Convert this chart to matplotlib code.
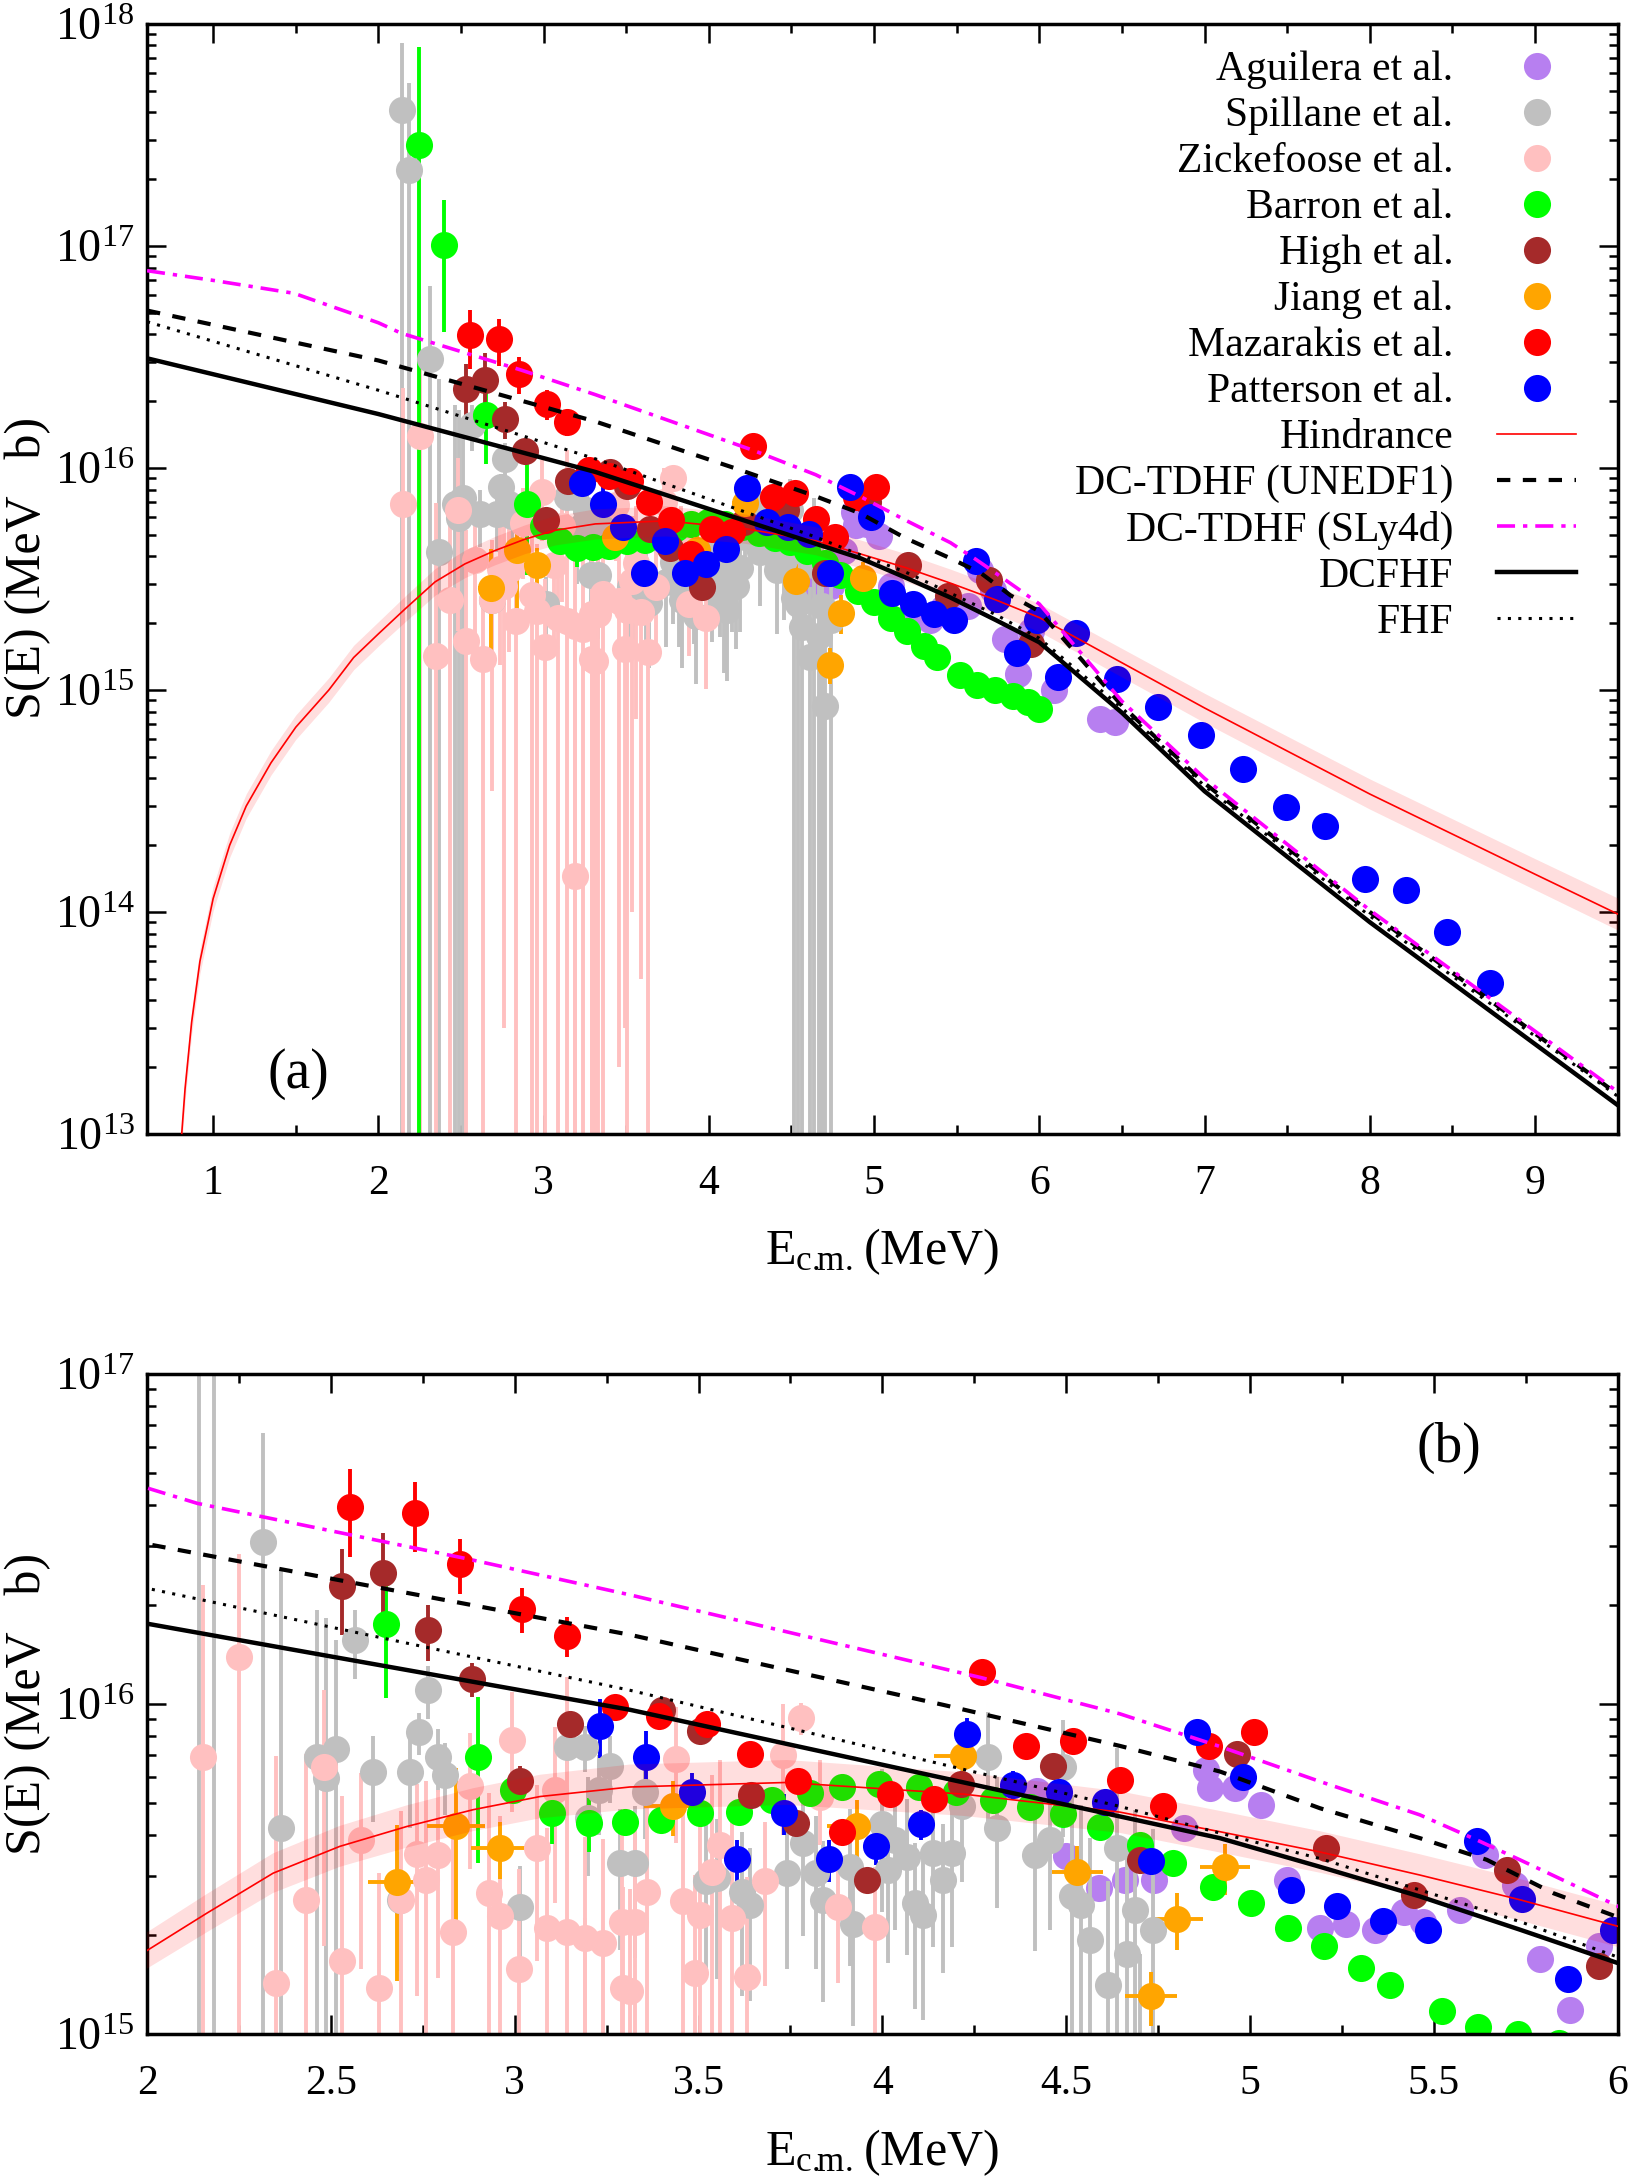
import numpy as np
import matplotlib
matplotlib.use("agg")
import matplotlib.pyplot as plt
from matplotlib.lines import Line2D
from matplotlib.ticker import MultipleLocator, LogLocator, FuncFormatter, NullFormatter

plt.rcParams['font.family'] = ['Liberation Serif', 'DejaVu Serif']
plt.rcParams['mathtext.fontset'] = 'custom'
plt.rcParams['mathtext.rm'] = 'Liberation Serif'
plt.rcParams['mathtext.it'] = 'Liberation Serif:italic'
plt.rcParams['mathtext.bf'] = 'Liberation Serif:bold'

# ---------------- experimental data (E in MeV, S in MeV b) ----------------
aguilera_x = [4.42, 4.50, 4.59, 4.66, 4.74, 4.82, 4.88, 4.89, 4.96, 5.03, 5.10, 5.19, 5.26,
              5.34, 5.42, 5.47, 5.57, 5.64, 5.72, 5.79, 5.87, 5.95, 6.09, 6.37, 6.46]
aguilera_y = [5.46e15, 3.46e15, 2.77e15, 2.93e15, 2.93e15, 4.22e15, 6.31e15, 5.55e15, 5.58e15,
              4.94e15, 2.93e15, 2.09e15, 2.16e15, 2.07e15, 2.34e15, 2.19e15, 2.38e15, 3.48e15,
              2.82e15, 1.69e15, 1.18e15, 1.85e15, 1.0e15, 7.4e14, 7.2e14]

spillane_x = [2.140, 2.183, 2.315, 2.364, 2.461, 2.488, 2.515, 2.565, 2.615, 2.688, 2.715, 2.740,
              2.765, 2.790, 2.810, 3.014, 3.141, 3.191, 3.200, 3.230, 3.259, 3.286, 3.327, 3.354,
              3.520, 3.549, 3.617, 3.640, 3.740, 3.785, 3.820, 3.839, 3.912, 3.921, 3.998, 4.016,
              4.034, 4.066, 4.089, 4.111, 4.139, 4.166, 4.190, 4.216, 4.288, 4.311, 4.415, 4.456,
              4.492, 4.515, 4.540, 4.565, 4.615, 4.638, 4.665, 4.687, 4.700, 4.737]
spillane_y = [4.1e17, 2.2e17, 3.1e16, 4.2e15, 6.9e15, 5.96e15, 7.3e15, 1.56e16, 6.2e15, 2.55e15,
              6.2e15, 8.2e15, 1.1e16, 6.9e15, 6.1e15, 2.43e15, 7.4e15, 7.4e15, 4.5e15, 5.5e15,
              6.5e15, 3.3e15, 3.3e15, 5.4e15, 2.9e15, 2.97e15, 2.7e15, 2.46e15, 3.07e15, 3.78e15,
              3.07e15, 2.55e15, 3.21e15, 2.16e15, 4.34e15, 3.14e15, 3.87e15, 3.44e15, 2.49e15,
              2.30e15, 3.53e15, 2.93e15, 3.53e15, 4.89e15, 6.92e15, 4.2e15, 3.48e15, 3.87e15,
              6.46e15, 2.61e15, 2.45e15, 1.93e15, 1.41e15, 3.66e15, 1.75e15, 2.38e15, 8.5e14,
              2.07e15]
spillane_err = [4.1e17, 3.2e17, 3.5e16, 2.1e16, 1.24e16, 1.22e16, 8.3e15, 3.7e15, 1.8e15, 1.0e15,
                2.0e15, 1.2e15, 2.0e15, 1.5e15, 1.5e15, 0.8e15, 1.2e15, 1.2e15, 1.5e15, 1.5e15,
                1.5e15, 1.5e15, 1.6e15, 1.5e15, 1.4e15, 1.5e15, 1.4e15, 1.2e15, 1.5e15, 1.8e15,
                1.5e15, 1.3e15, 1.6e15, 1.1e15, 2.0e15, 1.5e15, 1.8e15, 1.7e15, 1.3e15, 1.2e15,
                1.7e15, 1.4e15, 1.7e15, 2.0e15, 2.5e15, 1.8e15, 1.7e15, 1.8e15, 2.5e15, 2.7e15,
                2.5e15, 2.0e15, 1.5e15, 3.7e15, 1.8e15, 2.4e15, 9e14, 2.1e15]

zickefoose_x = [2.151, 2.251, 2.350, 2.431, 2.482, 2.531, 2.582, 2.631, 2.690, 2.733, 2.760, 2.790,
                2.833, 2.878, 2.931, 2.960, 2.992, 3.011, 3.060, 3.088, 3.109, 3.141, 3.190, 3.191,
                3.241, 3.291, 3.295, 3.313, 3.327, 3.360, 3.440, 3.458, 3.490, 3.504, 3.536, 3.558,
                3.590, 3.631, 3.681, 3.731, 3.780, 3.830, 3.880, 3.980]
zickefoose_y = [6.9e15, 1.39e16, 1.43e15, 2.55e15, 6.45e15, 1.66e15, 3.87e15, 1.38e15, 2.55e15,
                3.5e15, 2.93e15, 3.48e15, 2.04e15, 5.65e15, 2.67e15, 2.27e15, 7.8e15, 1.57e15,
                3.66e15, 2.1e15, 5.5e15, 2.04e15, 1.45e14, 1.95e15, 1.89e15, 2.19e15, 1.38e15,
                1.35e15, 2.19e15, 2.7e15, 6.8e15, 2.52e15, 1.53e15, 2.3e15, 3.1e15, 3.74e15,
                2.25e15, 1.49e15, 2.9e15, 7.0e15, 9.06e15, 5.24e15, 2.43e15, 2.11e15]
zickefoose_err = [1.6e16, 1.45e16, 5.5e15, 4.5e15, 4.6e15, 3.6e15, 2.3e15, 1.7e15, 2.2e15,
                  2.2e15, 2.9e15, 2.0e15, 2.5e15, 2.5e15, 2.7e15, 2.3e15, 3.1e15, 1.6e15,
                  2.0e15, 2.1e15, 3.0e15, 1.0e16, 2.1e15, 2.0e15, 2.0e15, 2.2e15, 1.4e15,
                  1.4e15, 2.2e15, 2.7e15, 3.0e15, 2.5e15, 1.5e15, 2.3e15, 3.0e15, 3.0e15,
                  2.2e15, 1.5e15, 1.5e15, 3.0e15, 1.0e15, 1.5e15, 1.0e15, 1.1e15]

barron_x = [2.245, 2.396, 2.651, 2.901, 2.996, 3.102, 3.202, 3.300, 3.397, 3.504, 3.611, 3.699,
            3.803, 3.891, 3.992, 4.100, 4.200, 4.302, 4.402, 4.490, 4.592, 4.701, 4.791, 4.900,
            5.002, 5.102, 5.201, 5.301, 5.381, 5.522, 5.621, 5.73, 5.84, 5.93, 6.0]
barron_y = [2.85e17, 1.01e17, 1.74e16, 6.9e15, 5.5e15, 4.67e15, 4.37e15, 4.40e15, 4.46e15,
            4.67e15, 4.72e15, 5.12e15, 5.38e15, 5.6e15, 5.73e15, 5.6e15, 5.42e15, 5.12e15,
            4.86e15, 4.63e15, 4.25e15, 3.74e15, 3.3e15, 2.78e15, 2.5e15, 2.1e15, 1.85e15,
            1.58e15, 1.41e15, 1.17e15, 1.05e15, 1.0e15, 9.4e14, 8.8e14, 8.2e14]
barron_err = [5.05e17, 6.0e16, 7.0e15, 3.6e15, 4e14, 9e14, 8e14, 3e14, 2e14, 2e14, 2e14, 2e14,
              2e14, 2e14, 2e14, 2e14, 2e14, 2e14, 2e14, 2e14, 2e14, 1e14, 1e14, 1e14,
              1e14, 1e14, 1e14, 1e14, 1e14, 5e13, 5e13, 5e13, 5e13, 5e13, 5e13]

high_x = [2.530, 2.643, 2.765, 2.885, 3.014, 3.150, 3.400, 3.504, 3.642, 3.765, 3.959, 4.215,
          4.465, 4.701, 4.964, 5.207, 5.447, 5.698, 5.948]
high_y = [2.28e16, 2.49e16, 1.67e16, 1.19e16, 5.85e15, 8.7e15, 9.6e15, 8.3e15, 5.3e15, 4.37e15,
          2.92e15, 5.7e15, 6.5e15, 3.37e15, 7.05e15, 3.67e15, 2.64e15, 3.14e15, 1.61e15]
high_err = [6.6e15, 8.1e15, 3.2e15, 1.4e15, 6.5e14, 3e14, 3e14, 3e14, 2e14, 2e14, 1.5e14, 2e14,
            2e14, 1e14, 2e14, 1e14, 1e14, 1e14, 5e13]

jiang_x = [2.680, 2.840, 2.960, 3.431, 3.930, 4.220, 4.530, 4.731, 4.802, 4.932]
jiang_y = [2.88e15, 4.27e15, 3.66e15, 4.91e15, 4.27e15, 6.95e15, 3.1e15, 1.3e15, 2.23e15, 3.2e15]
jiang_xerr = [0.08, 0.078, 0.078, 0.08, 0.08, 0.08, 0.069, 0.07, 0.069, 0.069]
jiang_yerr = [1.43e15, 2.12e15, 0.72e15, 0.93e15, 0.84e15, 1.0e15, 0.6e15, 0.24e15, 0.44e15, 0.56e15]

mazarakis_x = [2.552, 2.730, 2.851, 3.021, 3.141, 3.273, 3.393, 3.522, 3.640, 3.771, 3.891, 4.021,
               4.140, 4.270, 4.391, 4.519, 4.646, 4.762, 4.889, 5.011]
mazarakis_y = [3.96e16, 3.80e16, 2.65e16, 1.94e16, 1.61e16, 9.8e15, 9.2e15, 8.7e15, 7.05e15,
               5.85e15, 4.1e15, 5.33e15, 5.14e15, 1.25e16, 7.43e15, 7.73e15, 5.89e15, 4.91e15,
               7.43e15, 8.24e15]
mazarakis_err = [1.18e16, 9.1e15, 5.0e15, 3.0e15, 2.2e15, 8e14, 6e14, 5e14, 4e14, 3e14, 2e14,
                 3e14, 3e14, 5e14, 3e14, 3e14, 2e14, 2e14, 3e14, 3e14]

patterson_x = [3.232, 3.357, 3.481, 3.605, 3.732, 3.856, 3.982, 4.105, 4.231, 4.354, 4.480, 4.606,
               4.731, 4.857, 4.982, 5.111, 5.236, 5.361, 5.485, 5.617, 5.741, 5.866, 5.988, 6.11,
               6.22, 6.47, 6.72, 6.98, 7.23, 7.49, 7.73, 7.97, 8.22, 8.47, 8.73]
patterson_y = [8.6e15, 6.92e15, 5.42e15, 3.38e15, 4.67e15, 3.38e15, 3.7e15, 4.32e15, 8.1e15,
               5.69e15, 5.42e15, 5.06e15, 3.35e15, 8.24e15, 6.0e15, 2.73e15, 2.44e15, 2.2e15,
               2.07e15, 3.83e15, 2.56e15, 1.47e15, 2.06e15, 1.15e15, 1.8e15, 1.12e15, 8.4e14,
               6.3e14, 4.4e14, 2.97e14, 2.43e14, 1.41e14, 1.26e14, 8.1e13, 4.8e13]
patterson_err = [1.73e15, 1.35e15, 7.6e14, 5e14, 6.5e14, 5e14, 4.5e14, 4.5e14, 9.5e14, 5.5e14,
                 4.5e14, 4e14, 2.5e14, 6e14, 5e14, 2e14, 1.8e14, 1.5e14, 1.5e14, 2.5e14, 2e14,
                 1e14, 1.2e14, 6e13, 8e13, 5e13, 3e13, 2e13, 1.5e13, 1e13, 8e12, 5e12, 4e12,
                 3e12, 2e12]

# ---------------- model curves ----------------
hind_x = [0.80, 0.83, 0.87, 0.92, 1.0, 1.1, 1.2, 1.35, 1.5, 1.7, 1.85, 2.0, 2.162, 2.343, 2.524,
          2.706, 2.887, 3.069, 3.313, 3.74, 4.22, 4.646, 4.918, 5.19, 5.462, 5.734, 6.0, 7.0,
          8.0, 9.0, 9.5]
hind_y = [8.0e12, 1.6e13, 3.2e13, 6.0e13, 1.15e14, 2.0e14, 3.0e14, 4.7e14, 6.8e14, 1.0e15,
          1.4e15, 1.79e15, 2.32e15, 3.07e15, 3.70e15, 4.25e15, 4.78e15, 5.24e15, 5.60e15,
          5.78e15, 5.33e15, 4.70e15, 4.10e15, 3.56e15, 3.03e15, 2.55e15, 2.12e15, 8.3e14,
          3.4e14, 1.48e14, 9.8e13]
hind_band = [0.055, 0.055, 0.055, 0.055, 0.055, 0.055, 0.055, 0.055, 0.055, 0.055, 0.055, 0.055,
             0.058, 0.06, 0.062, 0.064, 0.065, 0.066, 0.068, 0.068, 0.066, 0.063, 0.063, 0.063,
             0.063, 0.063, 0.063, 0.066, 0.068, 0.07, 0.072]

unedf1_x = [0.6, 2.0, 3.313, 4.166, 4.646, 4.918, 5.19, 5.462, 5.644, 5.825, 6.0, 6.5, 7.0, 8.0, 9.5]
unedf1_y = [5.12e16, 3.05e16, 1.62e16, 9.93e15, 7.46e15, 6.24e15, 4.83e15, 3.92e15, 3.37e15,
            2.67e15, 2.26e15, 8.5e14, 3.8e14, 1.0e14, 1.51e13]

sly4d_x = [0.6, 1.0, 1.38, 1.49, 2.0, 2.137, 2.865, 3.313, 4.27, 4.646, 4.918, 5.19, 5.462, 5.617,
           5.734, 5.87, 6.0, 6.5, 7.0, 8.0, 9.5]
sly4d_y = [7.74e16, 7.0e16, 6.31e16, 6.12e16, 4.51e16, 4.05e16, 2.76e16, 2.14e16, 1.20e16,
           9.33e15, 7.43e15, 5.82e15, 4.61e15, 3.87e15, 3.37e15, 2.86e15, 2.44e15, 8.9e14,
           4.0e14, 1.02e14, 1.55e13]

dcfhf_x = [0.6, 2.0, 3.313, 4.646, 4.918, 5.19, 5.462, 5.734, 6.0, 6.5, 7.0, 8.0, 9.5]
dcfhf_y = [3.12e16, 1.75e16, 9.6e15, 4.56e15, 3.92e15, 3.21e15, 2.61e15, 2.07e15, 1.64e15,
           7.9e14, 3.5e14, 9.0e13, 1.35e13]

fhf_x = [0.6, 2.0, 3.313, 4.646, 4.918, 5.19, 5.462, 5.734, 6.0, 6.5, 7.0, 8.0, 9.5]
fhf_y = [4.56e16, 2.24e16, 1.10e16, 4.89e15, 4.06e15, 3.40e15, 2.73e15, 2.19e15, 1.71e15,
         8.3e14, 3.7e14, 9.6e13, 1.48e13]

labels = ["Aguilera et al.", "Spillane et al.", "Zickefoose et al.", "Barron et al.",
          "High et al.", "Jiang et al.", "Mazarakis et al.", "Patterson et al.",
          "Hindrance", "DC-TDHF (UNEDF1)", "DC-TDHF (SLy4d)", "DCFHF", "FHF"]
colors = ["#b77ff0", "#c0c0c0", "#ffc0c0", "#00ff00", "#a52a2a", "#ffa500", "#ff0000", "#0000ff"]

MS = 19.5
ELW = 2.8


def safe_err(y, e):
    y = np.asarray(y)
    e = np.asarray(e)
    lo = np.minimum(e, y - 1e9)
    return np.vstack([lo, e])


def draw(ax, ytop):
    ax.plot(aguilera_x, aguilera_y, 'o', color=colors[0], ms=MS, mew=0, zorder=2)
    ax.errorbar(spillane_x, spillane_y, yerr=safe_err(spillane_y, spillane_err), fmt='o',
                color=colors[1], ms=MS, mew=0, elinewidth=ELW, capsize=0, zorder=2)
    ax.errorbar(zickefoose_x, zickefoose_y, yerr=safe_err(zickefoose_y, zickefoose_err), fmt='o',
                color=colors[2], ms=MS, mew=0, elinewidth=ELW, capsize=0, zorder=2)
    bx = np.array(barron_x)
    by = np.array(barron_y)
    be = np.array(barron_err)
    keep = by < ytop
    ax.errorbar(bx[keep], by[keep], yerr=safe_err(by[keep], be[keep]), fmt='o',
                color=colors[3], ms=MS, mew=0, elinewidth=ELW, capsize=0, zorder=2)
    ax.errorbar(high_x, high_y, yerr=safe_err(high_y, high_err), fmt='o',
                color=colors[4], ms=MS, mew=0, elinewidth=ELW, capsize=0, zorder=2)
    ax.errorbar(jiang_x, jiang_y, xerr=jiang_xerr, yerr=safe_err(jiang_y, jiang_yerr), fmt='o',
                color=colors[5], ms=MS, mew=0, elinewidth=ELW, capsize=0, zorder=2)
    ax.errorbar(mazarakis_x, mazarakis_y, yerr=safe_err(mazarakis_y, mazarakis_err), fmt='o',
                color=colors[6], ms=MS, mew=0, elinewidth=ELW, capsize=0, zorder=2)
    ax.errorbar(patterson_x, patterson_y, yerr=safe_err(patterson_y, patterson_err), fmt='o',
                color=colors[7], ms=MS, mew=0, elinewidth=ELW, capsize=0, zorder=2)

    hy = np.array(hind_y)
    hb = np.array(hind_band)
    ax.fill_between(hind_x, hy / 10**hb, hy * 10**hb, color='red', alpha=0.13, lw=0, zorder=3)
    ax.plot(hind_x, hind_y, color='red', lw=1.2, zorder=4)
    ax.plot(unedf1_x, unedf1_y, color='black', lw=3.0, dashes=(3.2, 3.0), zorder=4)
    ax.plot(sly4d_x, sly4d_y, color='#ff00ff', lw=2.6, dashes=(5.0, 2.2, 1.2, 2.2), zorder=4)
    ax.plot(dcfhf_x, dcfhf_y, color='black', lw=3.2, zorder=4)
    ax.plot(fhf_x, fhf_y, color='black', lw=2.2, dashes=(1.0, 2.4), zorder=4)


def style(ax, xmin, xmax, ymin, ymax, xmaj, xmin_step):
    ax.set_yscale('log', nonpositive='clip')
    ax.set_xlim(xmin, xmax)
    ax.set_ylim(ymin, ymax)
    ax.xaxis.set_major_locator(MultipleLocator(xmaj))
    ax.xaxis.set_minor_locator(MultipleLocator(xmin_step))
    ax.xaxis.set_major_formatter(FuncFormatter(lambda v, p: '%g' % v))
    ax.yaxis.set_major_locator(LogLocator(base=10, numticks=20))
    ax.yaxis.set_minor_locator(LogLocator(base=10, subs=np.arange(2, 10), numticks=20))
    ax.yaxis.set_minor_formatter(NullFormatter())
    ax.yaxis.set_major_formatter(FuncFormatter(
        lambda v, p: r'$\mathregular{10^{%d}}$' % int(round(np.log10(v)))))
    ax.tick_params(which='both', direction='in', top=True, right=True, width=1.8)
    ax.tick_params(axis='x', labelsize=30)
    ax.tick_params(axis='y', labelsize=33)
    ax.tick_params(which='major', length=13.5)
    ax.tick_params(which='minor', length=6.8)
    ax.tick_params(axis='x', which='major', pad=22)
    ax.tick_params(axis='y', which='major', pad=9)
    for s in ax.spines.values():
        s.set_linewidth(2.5)
    ax.set_xlabel(r'E$_{\rm c.\!\!m.\!\!}$ (MeV)', fontsize=36)
    ax.set_ylabel('S(E) (MeV   b)', fontsize=36)
    ax.yaxis.label.set_verticalalignment('center')
    ax.xaxis.label.set_verticalalignment('center')


fig = plt.figure(figsize=(16.34, 21.8), dpi=100)
ax1 = fig.add_axes([0.0900, 0.4798, 0.9000, 0.5092])
ax2 = fig.add_axes([0.0900, 0.0670, 0.9000, 0.3028])

style(ax1, 0.6, 9.5, 1e13, 1e18, 1, 0.5)
draw(ax1, 1e19)
ax1.xaxis.set_label_coords(0.5, -0.106)
ax1.yaxis.set_label_coords(-0.081, 0.51)
ax1.text(0.103, 0.054, '(a)', transform=ax1.transAxes, fontsize=40, ha='center', va='center')

style(ax2, 2, 6, 1e15, 1e17, 0.5, 0.25)
draw(ax2, 1e17)
ax2.xaxis.set_label_coords(0.5, -0.180)
ax2.yaxis.set_label_coords(-0.081, 0.5)
ax2.text(0.885, 0.888, '(b)', transform=ax2.transAxes, fontsize=40, ha='center', va='center')

# legend in panel (a)
handles = []
for c in colors:
    handles.append(Line2D([], [], marker='o', ls='none', color=c, ms=MS, mew=0))
handles.append(Line2D([], [], color='red', lw=1.2))
handles.append(Line2D([], [], color='black', lw=3.0, dashes=(3.2, 3.0)))
handles.append(Line2D([], [], color='#ff00ff', lw=2.6, dashes=(5.0, 2.2, 1.2, 2.2)))
handles.append(Line2D([], [], color='black', lw=3.2))
handles.append(Line2D([], [], color='black', lw=2.2, dashes=(1.0, 2.4)))
ax1.legend(handles, labels, loc='upper right', bbox_to_anchor=(0.9718, 0.976), frameon=False,
           fontsize=30, markerfirst=False, borderaxespad=0, borderpad=0, labelspacing=0.18,
           handlelength=1.9, handletextpad=1.05)

fig.savefig('out.png', dpi=100)
